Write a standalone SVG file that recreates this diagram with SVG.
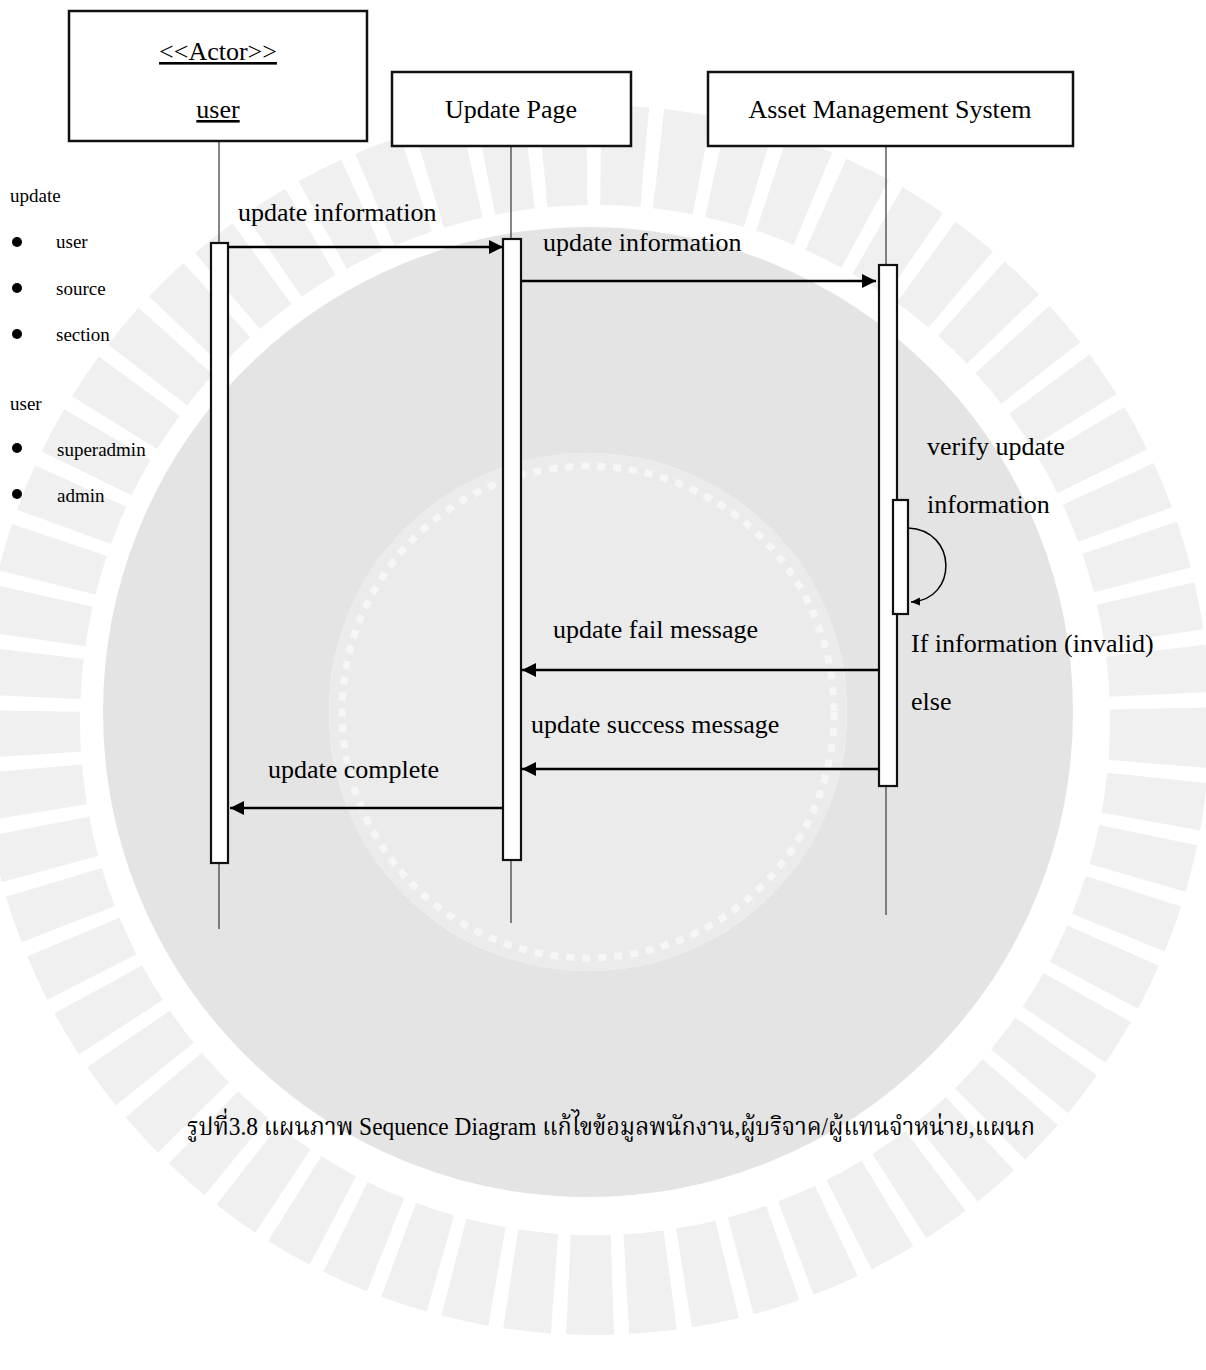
<svg xmlns="http://www.w3.org/2000/svg" width="1206" height="1370" viewBox="0 0 1206 1370">
<style>
  .t { font-family: "Liberation Serif", "Times New Roman", serif; fill: #000; }
  .lbl { font-size: 26px; }
  .leg { font-size: 19px; }
  .cap { font-family: "Liberation Serif", "Noto Serif Thai", "Noto Sans Thai", "Noto Sans CJK SC", serif; font-size: 25px; fill: #000; }
  .box { fill: #fff; stroke: #111; stroke-width: 2.5; }
  .act { fill: #fff; stroke: #111; stroke-width: 2.2; }
  .life { stroke: #444; stroke-width: 1.3; fill: none; }
  .msg { stroke: #000; stroke-width: 2.6; fill: none; marker-end: url(#arr); }
  .self { stroke: #000; stroke-width: 1.5; fill: none; marker-end: url(#sarr); }
</style>
<defs>
  <marker id="arr" markerUnits="userSpaceOnUse" markerWidth="15" markerHeight="15" refX="14" refY="7" orient="auto">
    <path d="M0,0 L14,7 L0,14 z" fill="#000"/>
  </marker>
  <marker id="sarr" markerUnits="userSpaceOnUse" markerWidth="10" markerHeight="10" refX="9" refY="4" orient="auto">
    <path d="M0,0 L9,4 L0,8 z" fill="#000"/>
  </marker>
</defs>
<rect width="1206" height="1370" fill="#fff"/>

<g id="watermark">
  <circle cx="595" cy="720" r="565" fill="none" stroke="#f0f0f0" stroke-width="100" stroke-dasharray="44 14"/>
  <circle cx="588" cy="712" r="372" fill="none" stroke="#e4e4e4" stroke-width="226"/>
  <circle cx="588" cy="712" r="259" fill="#ebebeb"/>
  <circle cx="588" cy="712" r="246" fill="none" stroke="#f6f6f6" stroke-width="7" stroke-dasharray="8 8"/>
</g>

<g id="lifelines">
  <line class="life" x1="219" y1="141" x2="219" y2="929"/>
  <line class="life" x1="511" y1="146" x2="511" y2="923"/>
  <line class="life" x1="886" y1="146" x2="886" y2="915"/>
</g>

<g id="actor-user">
  <rect class="box" x="69" y="11" width="298" height="130"/>
  <text class="t lbl" x="218" y="60" text-anchor="middle" text-decoration="underline">&lt;&lt;Actor&gt;&gt;</text>
  <text class="t lbl" x="218" y="118" text-anchor="middle" text-decoration="underline">user</text>
</g>

<g id="update-page">
  <rect class="box" x="392" y="72" width="239" height="74"/>
  <text class="t lbl" x="511" y="118" text-anchor="middle">Update Page</text>
</g>

<g id="asset-management-system">
  <rect class="box" x="708" y="72" width="365" height="74"/>
  <text class="t lbl" x="890" y="118" text-anchor="middle">Asset Management System</text>
</g>

<g id="activations">
  <rect class="act" x="211" y="243" width="17" height="620"/>
  <rect class="act" x="503" y="239" width="18" height="621"/>
  <rect class="act" x="879" y="265" width="18" height="521"/>
  <rect class="act" x="893" y="500" width="15" height="114"/>
</g>

<g id="connectors">
  <line class="msg" x1="228" y1="247" x2="503" y2="247"/>
  <line class="msg" x1="522" y1="281" x2="876" y2="281"/>
  <path class="self" d="M 908 528 C 958 530, 958 600, 911 602"/>
  <line class="msg" x1="879" y1="670" x2="522" y2="670"/>
  <line class="msg" x1="879" y1="769" x2="522" y2="769"/>
  <line class="msg" x1="503" y1="808" x2="230" y2="808"/>
</g>

<g id="message-labels">
  <text class="t lbl" x="238" y="221">update information</text>
  <text class="t lbl" x="543" y="251">update information</text>
  <text class="t lbl" x="927" y="455">verify update</text>
  <text class="t lbl" x="927" y="513">information</text>
  <text class="t lbl" x="553" y="638">update fail message</text>
  <text class="t lbl" x="911" y="652">If information (invalid)</text>
  <text class="t lbl" x="911" y="710">else</text>
  <text class="t lbl" x="531" y="733">update success message</text>
  <text class="t lbl" x="268" y="778">update complete</text>
</g>

<g id="legend">
  <text class="t leg" x="10" y="202">update</text>
  <circle cx="17" cy="242" r="5"/>
  <text class="t leg" x="56" y="248">user</text>
  <circle cx="17" cy="288" r="5"/>
  <text class="t leg" x="56" y="295">source</text>
  <circle cx="17" cy="334" r="5"/>
  <text class="t leg" x="56" y="341">section</text>
  <text class="t leg" x="10" y="410">user</text>
  <circle cx="17" cy="448" r="5"/>
  <text class="t leg" x="57" y="456">superadmin</text>
  <circle cx="17" cy="494" r="5"/>
  <text class="t leg" x="57" y="502">admin</text>
</g>

<g id="caption">
  <text class="cap" x="187" y="1135" textLength="848" lengthAdjust="spacingAndGlyphs">รูปที่3.8 แผนภาพ Sequence Diagram แก้ไขข้อมูลพนักงาน,ผู้บริจาค/ผู้แทนจำหน่าย,แผนก</text>
</g>
</svg>
